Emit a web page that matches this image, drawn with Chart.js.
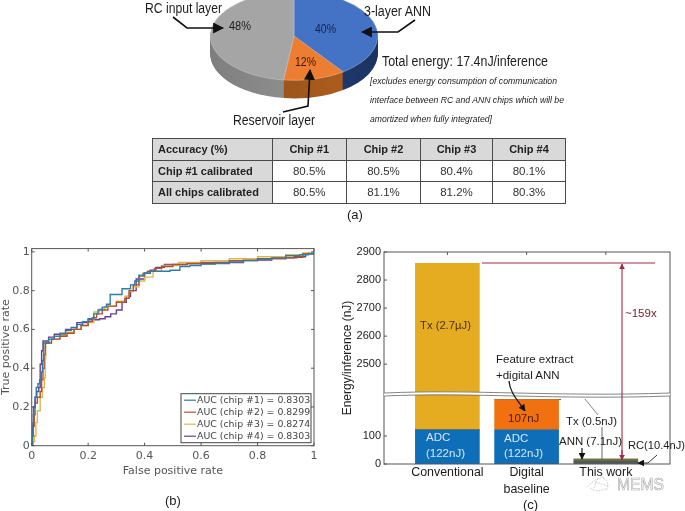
<!DOCTYPE html>
<html>
<head>
<meta charset="utf-8">
<script src="https://cdn.jsdelivr.net/npm/chart.js@4/dist/chart.umd.js"></script>
<style>
  html, body { margin: 0; padding: 0; background: #fff; }
  #page { position: relative; width: 685px; height: 511px; overflow: hidden; font-family: "Liberation Sans", Arial, sans-serif; }
  canvas { position: absolute; }
  #overlay { position: absolute; left: 0; top: 0; pointer-events: none; }
  #overlay text { font-family: "Liberation Sans", Arial, sans-serif; fill: #1c1c1c; dominant-baseline: central; }
  #accuracy { position: absolute; left: 152px; top: 138px; width: 413px; table-layout: fixed; border-collapse: collapse; font-size: 11.5px; color: #333; }
  #accuracy td, #accuracy th { border: 1px solid #4a4a4a; height: 20.5px; padding: 0; text-align: center; font-weight: normal; }
  #accuracy th { background: #d9d9d9; font-weight: bold; color: #222; font-size: 11px; }
  #accuracy .rowhead { text-align: left; padding-left: 5px; }
</style>
</head>
<body>
<div id="page">
  <canvas id="pieChart" width="184" height="184" style="left:202px;top:0"></canvas>
  <table id="accuracy"></table>
  <canvas id="rocChart" width="325" height="238" style="left:0;top:240px"></canvas>
  <canvas id="energyChart" width="345" height="271" style="left:340px;top:240px"></canvas>

  <svg id="overlay" width="685" height="511">
    <defs>
      <marker id="headBlack" viewBox="0 0 10 10" refX="9" refY="5" markerWidth="7" markerHeight="7" markerUnits="userSpaceOnUse" orient="auto"><path d="M0 0L10 5L0 10z" fill="#111"/></marker>
      <marker id="headBig" viewBox="0 0 10 10" refX="9" refY="5" markerWidth="11" markerHeight="11" markerUnits="userSpaceOnUse" orient="auto"><path d="M0 0L10 5L0 10z" fill="#111"/></marker>
      <marker id="headRed" viewBox="0 0 10 10" refX="9" refY="5" markerWidth="6" markerHeight="7" markerUnits="userSpaceOnUse" orient="auto"><path d="M0 0L10 5L0 10z" fill="#a32a44"/></marker>
    </defs>

    <!-- pie callouts -->
    <g fill="none" stroke="#111" stroke-width="1.6">
      <path d="M173 17L187 28H223" marker-end="url(#headBig)"/>
      <path d="M415 20L398 32H362" marker-end="url(#headBig)"/>
      <path d="M283 112L308 106L310 70" marker-end="url(#headBig)"/>
    </g>
    <text x="145" y="8" font-size="14" textLength="77" lengthAdjust="spacingAndGlyphs">RC input layer</text>
    <text x="364" y="11" font-size="14" textLength="67" lengthAdjust="spacingAndGlyphs">3-layer ANN</text>
    <text x="229" y="26" font-size="12" textLength="22" lengthAdjust="spacingAndGlyphs">48%</text>
    <text x="315" y="29" font-size="12" textLength="21" lengthAdjust="spacingAndGlyphs" style="fill:#14264a">40%</text>
    <text x="295" y="62" font-size="12" textLength="21" lengthAdjust="spacingAndGlyphs" style="fill:#3a1a05">12%</text>
    <text x="233" y="120" font-size="14" textLength="82" lengthAdjust="spacingAndGlyphs">Reservoir layer</text>
    <text x="382" y="61" font-size="14" textLength="166" lengthAdjust="spacingAndGlyphs">Total energy: 17.4nJ/inference</text>
    <text x="370" y="81" font-size="9" font-style="italic" textLength="187" lengthAdjust="spacingAndGlyphs">[excludes energy consumption of communication</text>
    <text x="370" y="100" font-size="9" font-style="italic" textLength="194" lengthAdjust="spacingAndGlyphs">interface between RC and ANN chips which will be</text>
    <text x="370" y="119" font-size="9" font-style="italic" textLength="122" lengthAdjust="spacingAndGlyphs">amortized when fully integrated]</text>
    <text x="347" y="214" font-size="13">(a)</text>

    <text x="165" y="500" font-size="13">(b)</text>

    <!-- energy chart callouts -->
    <path d="M482 263H655" stroke="#a32a44" stroke-width="1"/>
    <path d="M622 460V264" stroke="#a32a44" stroke-width="1.1" marker-end="url(#headRed)"/>
    <path d="M622 450V460" stroke="#a32a44" stroke-width="1.1" marker-end="url(#headRed)"/>
    <text x="625" y="313" font-size="11.5" style="fill:#7a2030">~159x</text>
    <text x="420" y="325" font-size="11.5" textLength="51" lengthAdjust="spacingAndGlyphs" style="fill:#4a3210">Tx (2.7µJ)</text>
    <text x="426" y="437" font-size="11.5" style="fill:#d5e6f5">ADC</text>
    <text x="426" y="453" font-size="11.5" style="fill:#d5e6f5">(122nJ)</text>
    <text x="504" y="438" font-size="11.5" style="fill:#d5e6f5">ADC</text>
    <text x="504" y="453" font-size="11.5" style="fill:#d5e6f5">(122nJ)</text>
    <text x="508" y="418" font-size="11.5" style="fill:#4a1a08">107nJ</text>
    <text x="496" y="359" font-size="11.5">Feature extract</text>
    <text x="496" y="375" font-size="11.5">+digital ANN</text>
    <path d="M509 381C510 392 516 398 525 411" fill="none" stroke="#111" stroke-width="1.2" marker-end="url(#headBlack)"/>
    <path d="M585 399L598 415" fill="none" stroke="#666" stroke-width="0.8"/>
    <path d="M559 399.5H561" stroke="#666" stroke-width="1"/>
    <text x="566" y="421" font-size="11.5" textLength="51" lengthAdjust="spacingAndGlyphs">Tx (0.5nJ)</text>
    <path d="M602 427V459" stroke="#444" stroke-width="0.8"/>
    <text x="559" y="441" font-size="11.5" textLength="63" lengthAdjust="spacingAndGlyphs">ANN (7.1nJ)</text>
    <path d="M582 448V459" stroke="#111" stroke-width="1.2" marker-end="url(#headBlack)"/>
    <text x="628" y="445" font-size="11.5" textLength="57" lengthAdjust="spacingAndGlyphs">RC(10.4nJ)</text>
    <path d="M657 455L648 463H638" fill="none" stroke="#333" stroke-width="1" marker-end="url(#headBlack)"/>
    <text x="523" y="504" font-size="13">(c)</text>

    <!-- watermark -->
    <g fill="none" stroke="#c9c9c9" stroke-width="0.8">
      <path d="M587 487C592 482 597 478 604 477M590 488C595 492 600 491 606 489M595 482L609 486M598 478L593 490M603 478C608 480 609 486 606 491" stroke-dasharray="2 1"/>
    </g>
    <text x="617" y="484" font-size="16" textLength="47" lengthAdjust="spacingAndGlyphs" style="fill:#fff;stroke:#a9a9a9;stroke-width:0.6">MEMS</text>
  </svg>
</div>

<script>
// (a) pie and table
const pieLabels = ['3-layer ANN', 'Reservoir layer', 'RC input layer'];
const pieValues = [40, 12, 48];
const pieColors = ['#4472c4', '#ed7d31', '#a5a5a5'];
const pieSideColors = [['#2a4a86', '#1b3362'], ['#8a4a15', '#b5621f'], ['#7e7e7e', '#a0a0a0']];

const chipHeaders = ['Accuracy (%)', 'Chip #1', 'Chip #2', 'Chip #3', 'Chip #4'];
const chip1Calibrated = ['Chip #1 calibrated', '80.5%', '80.5%', '80.4%', '80.1%'];
const allCalibrated = ['All chips calibrated', '80.5%', '81.1%', '81.2%', '80.3%'];

// (b) ROC curves, [false positive rate, true positive rate]
const chip1 = [[0,0],[.002,.06],[.004,.12],[.006,.16],[.008,.2],[.012,.25],[.016,.3],[.022,.32],[.028,.34],[.034,.38],[.038,.44],[.042,.53],[.06,.55],[.08,.565],[.1,.58],[.12,.595],[.14,.61],[.16,.625],[.18,.64],[.2,.655],[.22,.68],[.235,.7],[.25,.715],[.265,.73],[.278,.78],[.32,.81],[.35,.83],[.365,.85],[.38,.88],[.4,.89],[.42,.9],[.49,.905],[.525,.925],[.56,.93],[.6,.937],[.65,.94],[.7,.948],[.75,.955],[.8,.962],[.85,.968],[.9,.98],[.95,.985],[.98,.992],[1,1]];
const chip2 = [[0,0],[.003,.05],[.006,.1],[.009,.16],[.012,.22],[.02,.25],[.03,.28],[.035,.34],[.04,.4],[.044,.47],[.048,.53],[.07,.55],[.1,.565],[.125,.58],[.15,.6],[.175,.62],[.2,.64],[.215,.66],[.23,.68],[.25,.7],[.27,.72],[.3,.74],[.33,.76],[.345,.8],[.36,.83],[.38,.875],[.395,.89],[.41,.9],[.435,.915],[.46,.925],[.5,.935],[.55,.94],[.6,.945],[.7,.955],[.8,.965],[.9,.97],[.94,.972],[.96,.99],[1,1]];
const chip3 = [[0,0],[.005,.02],[.01,.05],[.015,.12],[.02,.18],[.03,.25],[.038,.3],[.045,.35],[.048,.45],[.05,.53],[.07,.55],[.1,.57],[.125,.585],[.15,.6],[.175,.62],[.2,.635],[.22,.69],[.24,.705],[.26,.72],[.3,.745],[.33,.77],[.345,.795],[.36,.82],[.38,.85],[.4,.87],[.43,.9],[.46,.93],[.52,.945],[.6,.955],[.7,.965],[.8,.975],[.9,.985],[.96,.995],[1,1]];
const chip4 = [[0,0],[.003,.1],[.006,.2],[.012,.25],[.018,.28],[.025,.3],[.03,.42],[.035,.49],[.04,.54],[.06,.56],[.08,.575],[.12,.6],[.16,.635],[.2,.65],[.24,.655],[.26,.665],[.28,.68],[.3,.7],[.32,.74],[.335,.77],[.35,.8],[.37,.86],[.4,.89],[.42,.905],[.44,.92],[.47,.935],[.55,.94],[.65,.945],[.75,.958],[.85,.97],[.93,.975],[.97,.99],[1,1]];
const chipLabels = ['AUC (chip #1) = 0.8303', 'AUC (chip #2) = 0.8299', 'AUC (chip #3) = 0.8274', 'AUC (chip #4) = 0.8303'];
const chipColors = ['#2f7eaa', '#b5502c', '#dcb84f', '#6b3f8c'];
const rocTicks = [0, 0.2, 0.4, 0.6, 0.8, 1];

// (c) energy bars, nJ
const energyCategories = [1, 2, 3];
const energyNames = ['Conventional', ['Digital', 'baseline'], 'This work'];
const adcEnergy = [122, 122, 0];
const featureEnergy = [0, 107, 0];
const rcEnergy = [0, 0, 10.4];
const annEnergy = [0, 0, 7.1];
const txEnergy = [2738, 0, 0.5];
const energyTicks = [0, 100, 2500, 2600, 2700, 2800, 2900];

const BREAK_LOW = 246;
const BREAK_HIGH = 2390;

// linear scale with a hole cut out between BREAK_LOW and BREAK_HIGH
class BrokenScale extends Chart.LinearScale {
  static id = 'broken';
  static defaults = {};
  getPixelForValue(v) {
    const gap = BREAK_HIGH - BREAK_LOW;
    const c = v >= BREAK_HIGH ? v - gap : Math.min(v, BREAK_LOW);
    return this.getPixelForDecimal(c / (this.max - gap));
  }
}
Chart.register(BrokenScale);

// frame round the plot area with inward ticks on the given sides
function framePlugin(sides) {
  return {
    id: 'frame',
    afterDraw(chart) {
      const { ctx, chartArea: a, scales: { x, y } } = chart;
      ctx.save();
      ctx.strokeStyle = '#555';
      ctx.lineWidth = 1;
      ctx.strokeRect(a.left, a.top, a.right - a.left, a.bottom - a.top);
      ctx.beginPath();
      x.ticks.forEach(t => {
        const px = x.getPixelForValue(t.value);
        if (sides.includes('top')) { ctx.moveTo(px, a.top); ctx.lineTo(px, a.top + 3); }
        if (sides.includes('bottom')) { ctx.moveTo(px, a.bottom); ctx.lineTo(px, a.bottom - 3); }
      });
      y.ticks.forEach(t => {
        const py = y.getPixelForValue(t.value);
        if (sides.includes('left')) { ctx.moveTo(a.left, py); ctx.lineTo(a.left + 3, py); }
        if (sides.includes('right')) { ctx.moveTo(a.right, py); ctx.lineTo(a.right - 3, py); }
      });
      ctx.stroke();
      ctx.restore();
    }
  };
}

// flattens the pie into an ellipse and paints the rim under it
const PIE_CY = 36, PIE_SQUASH = 0.53, PIE_DEPTH = 18;
const tiltPlugin = {
  id: 'tilt',
  beforeDatasetsDraw(chart) {
    const ctx = chart.ctx;
    const arcs = chart.getDatasetMeta(0).data;
    const place = d => {
      ctx.translate(arcs[0].x, PIE_CY + d);
      ctx.scale(1, PIE_SQUASH);
      ctx.translate(-arcs[0].x, -arcs[0].y);
    };
    for (let d = PIE_DEPTH; d > 0; d--) {
      arcs.forEach((arc, i) => {
        ctx.save();
        place(d);
        const g = ctx.createLinearGradient(arc.x - arc.outerRadius, 0, arc.x + arc.outerRadius, 0);
        g.addColorStop(0, pieSideColors[i][0]);
        g.addColorStop(1, pieSideColors[i][1]);
        ctx.fillStyle = g;
        ctx.beginPath();
        ctx.moveTo(arc.x, arc.y);
        ctx.arc(arc.x, arc.y, arc.outerRadius, arc.startAngle, arc.endAngle);
        ctx.closePath();
        ctx.fill();
        ctx.restore();
      });
    }
    ctx.save();
    place(0);
  },
  afterDatasetsDraw(chart) {
    chart.ctx.restore();
  }
};

new Chart(document.getElementById('pieChart'), {
  type: 'pie',
  data: {
    labels: pieLabels,
    datasets: [{ data: pieValues, backgroundColor: pieColors, borderColor: '#d8d8d8', borderWidth: 0.5, clip: false }]
  },
  options: {
    responsive: false,
    animation: false,
    events: [],
    layout: { padding: 8 },
    plugins: { legend: { display: false }, tooltip: { enabled: false } }
  },
  plugins: [tiltPlugin]
});

document.getElementById('accuracy').innerHTML =
  '<colgroup><col style="width:119.5px"><col style="width:74.5px"><col style="width:74px"><col style="width:72px"><col style="width:73px"></colgroup>' +
  '<tr>' + chipHeaders.map((h, i) => `<th class="${i ? '' : 'rowhead'}">${h}</th>`).join('') + '</tr>' +
  [chip1Calibrated, allCalibrated].map(row =>
    '<tr>' + row.map((c, i) => i ? `<td>${c}</td>` : `<th class="rowhead">${c}</th>`).join('') + '</tr>'
  ).join('');

// legend inside the plot, bottom right
const rocLegendPlugin = {
  id: 'rocLegend',
  afterDraw(chart) {
    const { ctx, chartArea: a } = chart;
    const w = 130, h = 49, left = a.right - w - 3, top = a.bottom - h - 3;
    ctx.save();
    ctx.fillStyle = '#fff';
    ctx.fillRect(left, top, w, h);
    ctx.strokeStyle = '#444';
    ctx.strokeRect(left, top, w, h);
    ctx.font = '9.4px "DejaVu Sans"';
    ctx.textBaseline = 'middle';
    chart.data.datasets.forEach((ds, i) => {
      const rowY = top + 6.5 + i * 12;
      ctx.strokeStyle = ds.borderColor;
      ctx.lineWidth = 1.2;
      ctx.beginPath();
      ctx.moveTo(left + 3, rowY);
      ctx.lineTo(left + 15, rowY);
      ctx.stroke();
      ctx.fillStyle = '#444';
      ctx.fillText(ds.label, left + 16, rowY);
    });
    ctx.restore();
  }
};

const noGrid = { display: false, drawTicks: false, offset: false };

new Chart(document.getElementById('rocChart'), {
  type: 'scatter',
  data: {
    datasets: [chip1, chip2, chip3, chip4].map((pts, i) => ({
      label: chipLabels[i],
      data: pts.map(p => ({ x: p[0], y: p[1] })),
      showLine: true,
      stepped: true,
      pointRadius: 0,
      borderWidth: 1.4,
      borderColor: chipColors[i]
    }))
  },
  options: {
    responsive: false,
    animation: false,
    events: [],
    layout: { padding: { top: 7.7, right: 11 } },
    plugins: { legend: { display: false }, tooltip: { enabled: false } },
    scales: {
      x: {
        type: 'linear', min: 0, max: 1,
        afterBuildTicks: axis => { axis.ticks = rocTicks.map(value => ({ value })); },
        afterFit: axis => { axis.height = 32.3; },
        grid: noGrid,
        border: { display: false },
        ticks: { autoSkip: false, maxRotation: 0, padding: 4, color: '#555', font: { family: 'DejaVu Sans', size: 11 }, callback: v => String(v) },
        title: { display: true, text: 'False positive rate', color: '#555', padding: 0, font: { family: 'DejaVu Sans', size: 11 } }
      },
      y: {
        type: 'linear', min: 0, max: 1.017,
        afterBuildTicks: axis => { axis.ticks = rocTicks.map(value => ({ value })); },
        afterFit: axis => { axis.width = 31.7; },
        grid: noGrid,
        border: { display: false },
        ticks: { autoSkip: false, padding: 2, color: '#555', font: { family: 'DejaVu Sans', size: 11 }, callback: v => String(v) },
        title: { display: true, text: 'True positive rate', color: '#555', padding: 0, font: { family: 'DejaVu Sans', size: 11 } }
      }
    }
  },
  plugins: [framePlugin(['top', 'bottom', 'left', 'right']), rocLegendPlugin]
});

// white band with two wavy edges over the axis break
const breakBandPlugin = {
  id: 'breakBand',
  afterDraw(chart) {
    const { ctx, chartArea: a } = chart;
    const mid = chart.scales.y.getPixelForValue(BREAK_LOW);
    const upper = off => { ctx.moveTo(a.left, mid - 2 + off); ctx.bezierCurveTo(a.left + 90, mid - 6 + off, a.left + 170, mid + 2 + off, a.right, mid - 2 + off); };
    ctx.save();
    ctx.fillStyle = '#fff';
    ctx.beginPath();
    upper(0);
    ctx.lineTo(a.right, mid + 1);
    ctx.bezierCurveTo(a.left + 170, mid + 5, a.left + 90, mid - 3, a.left, mid + 1);
    ctx.closePath();
    ctx.fill();
    ctx.strokeStyle = '#666';
    ctx.lineWidth = 0.8;
    ctx.beginPath();
    upper(0);
    upper(3);
    ctx.stroke();
    ctx.restore();
  }
};

const toBars = values => values.map((v, i) => ({ x: energyCategories[i], y: v }));

new Chart(document.getElementById('energyChart'), {
  type: 'bar',
  data: {
    datasets: [
      { label: 'ADC', data: toBars(adcEnergy), backgroundColor: '#0e6eb8' },
      { label: 'Feature extract + digital ANN', data: toBars(featureEnergy), backgroundColor: '#f1700f' },
      { label: 'RC', data: toBars(rcEnergy), backgroundColor: '#4d5a55' },
      { label: 'ANN', data: toBars(annEnergy), backgroundColor: '#66705a' },
      { label: 'Tx', data: toBars(txEnergy), backgroundColor: '#e5ac22' }
    ]
  },
  options: {
    responsive: false,
    animation: false,
    events: [],
    barThickness: 64,
    layout: { padding: { top: 12, right: 15 } },
    plugins: { legend: { display: false }, tooltip: { enabled: false } },
    scales: {
      x: {
        type: 'linear', min: 0.2, max: 3.81, stacked: true, offset: false,
        afterBuildTicks: axis => { axis.ticks = energyCategories.map(value => ({ value })); },
        afterFit: axis => { axis.height = 47; },
        grid: noGrid,
        border: { display: false },
        ticks: { autoSkip: false, maxRotation: 0, padding: 1, color: '#1c1c1c', font: { family: 'Liberation Sans', size: 12.4, lineHeight: 1.3 }, callback: v => energyNames[energyCategories.indexOf(v)] }
      },
      y: {
        type: 'broken', min: 0, max: 2900, stacked: true,
        afterBuildTicks: axis => { axis.ticks = energyTicks.map(value => ({ value })); },
        afterFit: axis => { axis.width = 44; },
        grid: noGrid,
        border: { display: false },
        ticks: { autoSkip: false, padding: 3, color: '#222', font: { family: 'Liberation Sans', size: 11 }, callback: v => String(v) },
        title: { display: true, text: 'Energy/inference (nJ)', color: '#1c1c1c', padding: 0, font: { family: 'Liberation Sans', size: 12 } }
      }
    }
  },
  plugins: [framePlugin(['top', 'left']), breakBandPlugin]
});
</script>
</body>
</html>
